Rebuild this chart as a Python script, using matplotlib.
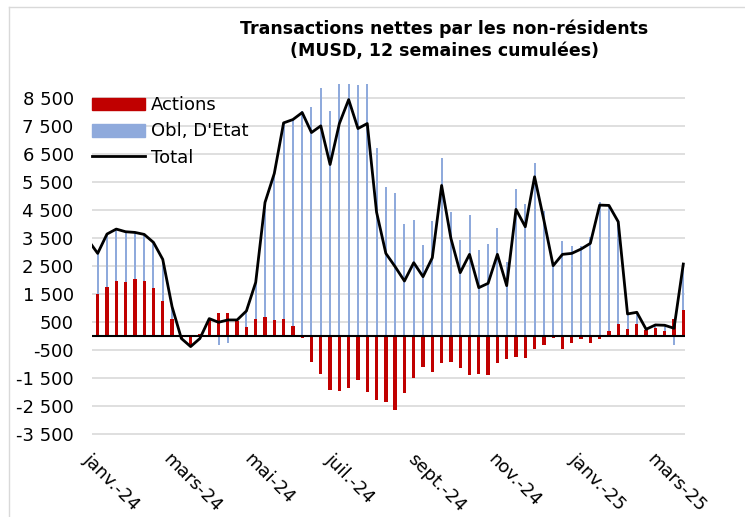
import matplotlib
matplotlib.use("Agg")
import matplotlib.pyplot as plt
import pandas as pd
from matplotlib.ticker import FuncFormatter
from matplotlib.patches import Patch
from matplotlib.lines import Line2D

# weekly dates (first point sits just left of the plot area)
dates = pd.date_range("2023-12-29", periods=65, freq="7D")

actions = [1500, 1488, 1738, 1952, 1917, 2036, 1976, 1726, 1262, 619,
           -100, -321, 60, 595, 810, 833, 548, 310, 595, 690,
           571, 607, 357, -60, -917, -1369, -1929, -1952, -1869, -1571,
           -2012, -2286, -2369, -2643, -2048, -1512, -1119, -1298, -976, -929,
           -1155, -1405, -1357, -1393, -952, -833, -738, -798, -476, -321,
           -83, -464, -262, -107, -238, -95, 190, 429, 262, 429,
           214, 274, 179, 595, 929]

obl = [1914, 1464, 1905, 1869, 1809, 1666, 1655, 1619, 1476, 429,
       10, -60, -150, 24, -322, -262, 23, 583, 1322, 4084,
       5239, 7012, 7381, 8048, 8191, 8881, 8060, 9547, 10321, 8988,
       9607, 6715, 5321, 5119, 4012, 4131, 3238, 4096, 6357, 4417,
       3417, 4322, 3083, 3274, 3869, 2631, 5262, 4703, 6167, 4464,
       2595, 3381, 3214, 3214, 3548, 4774, 4477, 3654, 524, 416,
       24, 119, 202, -321, 1642]

total = [3414, 2952, 3643, 3821, 3726, 3702, 3631, 3345, 2738, 1048,
         -90, -381, -90, 619, 488, 571, 571, 893, 1917, 4774,
         5810, 7619, 7738, 7988, 7274, 7512, 6131, 7595, 8452, 7417,
         7595, 4429, 2952, 2476, 1964, 2619, 2119, 2798, 5381, 3488,
         2262, 2917, 1726, 1881, 2917, 1798, 4524, 3905, 5691, 4143,
         2512, 2917, 2952, 3107, 3310, 4679, 4667, 4083, 786, 845,
         238, 393, 381, 274, 2571]

tick_dates = pd.to_datetime(["2024-01-01", "2024-03-01", "2024-05-01", "2024-07-01",
                             "2024-09-01", "2024-11-01", "2025-01-01", "2025-03-01"])
tick_labels = ["janv.-24", "mars-24", "mai-24", "juil.-24",
               "sept.-24", "nov.-24", "janv.-25", "mars-25"]
y_ticks = [-3500, -2500, -1500, -500, 500, 1500, 2500, 3500, 4500, 5500, 6500, 7500, 8500]

red = "#C00000"
blue = "#8FAADC"

fig = plt.figure(figsize=(7.45, 5.17), dpi=100)
ax = fig.add_axes([0.1231, 0.1339, 0.7964, 0.7031])

# Excel-style stacking: blue sits on the red bar when both have the same sign
bottoms = [a if (a > 0) == (b > 0) else 0 for a, b in zip(actions, obl)]
ax.bar(dates, actions, width=2.5, color=red, zorder=2)
ax.bar(dates, obl, width=1.5, bottom=bottoms, color=blue, zorder=2)
ax.plot(dates, total, color="black", lw=2, zorder=4)
ax.axhline(0, color="black", lw=1.5, zorder=3)

ax.set_ylim(-4000, 9000)
ax.set_xlim(pd.Timestamp("2023-12-31 12:00"), dates[-1] + pd.Timedelta(days=1.3))
ax.set_yticks(y_ticks)
ax.yaxis.set_major_formatter(FuncFormatter(lambda v, p: f"{int(v):,}".replace(",", " ")))
ax.grid(axis="y", color="#D9D9D9", lw=1.2, zorder=0)
ax.set_axisbelow(True)
ax.set_xticks(tick_dates)
ax.set_xticklabels(tick_labels, rotation=-45, ha="left", va="top", rotation_mode="anchor")
ax.tick_params(axis="y", length=0, pad=13, labelsize=13)
ax.tick_params(axis="x", length=0, pad=2, labelsize=13)
for s in ax.spines.values():
    s.set_visible(False)

handles = [Patch(color=red), Patch(color=blue), Line2D([], [], color="black", lw=2)]
ax.legend(handles, ["Actions", "Obl, D'Etat", "Total"], loc="upper left",
          bbox_to_anchor=(0.0, 0.967), frameon=False, fontsize=13, borderpad=0,
          borderaxespad=0, handlelength=2.93, handleheight=0.72,
          handletextpad=0.33, labelspacing=0.45)

fig.text(444 / 745, 1 - 19 / 517, "Transactions nettes par les non-résidents\n(MUSD, 12 semaines cumulées)",
         ha="center", va="top", fontsize=12.5, fontweight="bold", linespacing=1.3)

# chart-area border
fig.add_artist(Line2D([9 / 745, 9 / 745], [0, 1 - 7 / 517], color="#D9D9D9", lw=1))
fig.add_artist(Line2D([9 / 745, 1], [1 - 7 / 517, 1 - 7 / 517], color="#D9D9D9", lw=1))

fig.savefig("out.png", dpi=100)
